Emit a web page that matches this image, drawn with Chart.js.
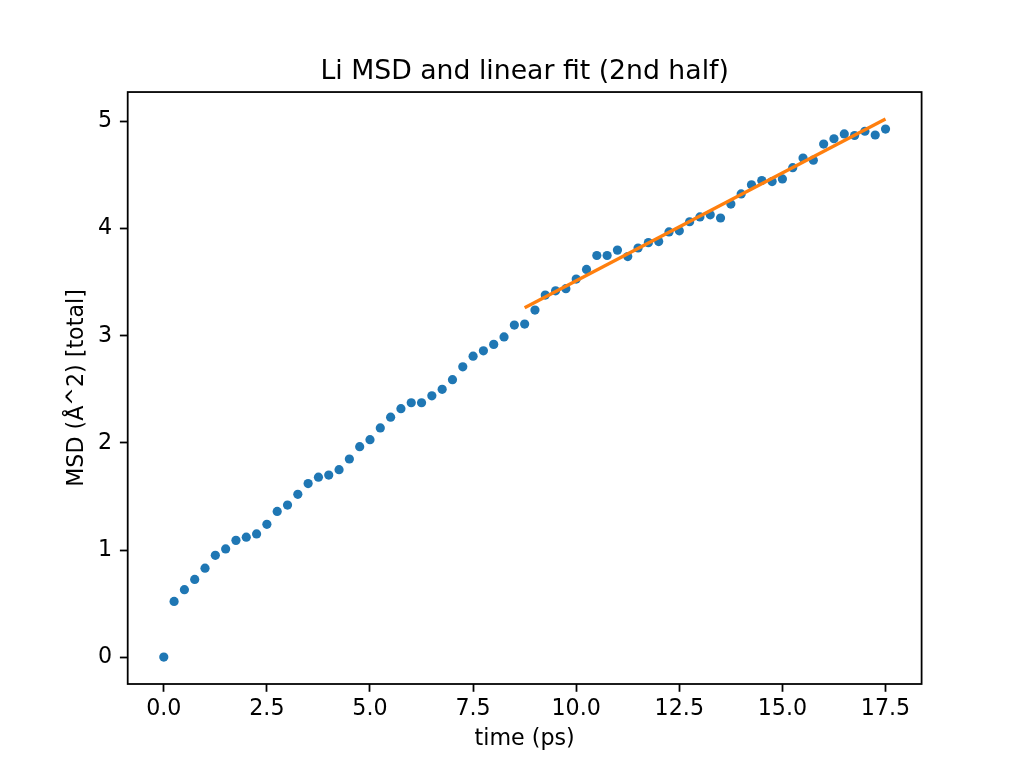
<!DOCTYPE html>
<html>
<head>
<meta charset="utf-8">
<script src="https://cdn.jsdelivr.net/npm/chart.js@4.4.0/dist/chart.umd.min.js"></script>
<style>
html, body { margin: 0; padding: 0; background: #fff; }
</style>
</head>
<body>
<canvas id="graficoMsd" width="1024" height="768"></canvas>
<script>
// tempo (ps) de cada ponto
const tempos = [
    0.0, 0.25, 0.5, 0.75, 1.0, 1.25, 1.5, 1.75, 2.0, 2.25,
    2.5, 2.75, 3.0, 3.25, 3.5, 3.75, 4.0, 4.25, 4.5, 4.75,
    5.0, 5.25, 5.5, 5.75, 6.0, 6.25, 6.5, 6.75, 7.0, 7.25,
    7.5, 7.75, 8.0, 8.25, 8.5, 8.75, 9.0, 9.25, 9.5, 9.75,
    10.0, 10.25, 10.5, 10.75, 11.0, 11.25, 11.5, 11.75, 12.0, 12.25,
    12.5, 12.75, 13.0, 13.25, 13.5, 13.75, 14.0, 14.25, 14.5, 14.75,
    15.0, 15.25, 15.5, 15.75, 16.0, 16.25, 16.5, 16.75, 17.0, 17.25,
    17.5
];

// MSD total (A^2)
const msd = [
    0.00, 0.52, 0.63, 0.725, 0.83, 0.95, 1.01, 1.09, 1.12, 1.15,
    1.24, 1.36, 1.42, 1.52, 1.62, 1.68, 1.70, 1.75, 1.85, 1.965,
    2.03, 2.14, 2.24, 2.32, 2.375, 2.375, 2.44, 2.50, 2.59, 2.71,
    2.81, 2.86, 2.92, 2.99, 3.10, 3.11, 3.24, 3.38, 3.42, 3.44,
    3.53, 3.62, 3.75, 3.75, 3.80, 3.74, 3.82, 3.87, 3.88, 3.97,
    3.98, 4.065, 4.11, 4.13, 4.10, 4.23, 4.325, 4.41, 4.45, 4.44,
    4.465, 4.57, 4.66, 4.64, 4.79, 4.84, 4.885, 4.87, 4.91, 4.875,
    4.93
];

// ajuste linear (2a metade)
const fitTempos = [8.75, 17.5];
const fitMsd = [3.262, 5.025];

const xTicks = [0.0, 2.5, 5.0, 7.5, 10.0, 12.5, 15.0, 17.5];
const yTicks = [0, 1, 2, 3, 4, 5];

const pontos = tempos.map((t, i) => ({ x: t, y: msd[i] }));
const pontosFit = fitTempos.map((t, i) => ({ x: t, y: fitMsd[i] }));

Chart.defaults.font.family = 'DejaVu Sans';
Chart.defaults.color = '#000';

// moldura dos 4 lados, como no matplotlib
const moldura = {
    id: 'moldura',
    afterDraw(chart) {
        const a = chart.chartArea;
        const ctx = chart.ctx;
        ctx.save();
        ctx.strokeStyle = '#000';
        ctx.lineWidth = 1.78;
        ctx.strokeRect(a.left, a.top, a.right - a.left, a.bottom - a.top);
        ctx.restore();
    }
};

const config = {
    type: 'scatter',
    data: {
        datasets: [{
            type: 'line',
            label: 'fit',
            data: pontosFit,
            borderColor: '#ff7f0e',
            borderWidth: 3.3,
            pointRadius: 0,
            fill: false
        }, {
            label: 'MSD',
            data: pontos,
            backgroundColor: '#1f77b4',
            borderWidth: 0,
            pointRadius: 4.6,
            pointHoverRadius: 4.6
        }]
    },
    options: {
        responsive: false,
        animation: false,
        devicePixelRatio: 1,
        layout: { padding: { left: 0, right: 102.4, top: 0, bottom: 0 } },
        plugins: {
            legend: { display: false },
            tooltip: { enabled: false },
            title: {
                display: true,
                fullSize: false,
                text: 'Li MSD and linear fit (2nd half)',
                font: { size: 26.7, weight: 'normal' },
                color: '#000',
                padding: { top: 56, bottom: 4 }
            }
        },
        scales: {
            x: {
                type: 'linear',
                min: -0.875,
                max: 18.375,
                afterBuildTicks: (s) => { s.ticks = xTicks.map(v => ({ value: v })); },
                afterFit: (s) => { s.height = 84; },
                ticks: {
                    font: { size: 22.2 },
                    padding: 4,
                    maxRotation: 0,
                    callback: (v) => v.toFixed(1)
                },
                grid: {
                    drawOnChartArea: false,
                    drawTicks: true,
                    tickLength: 7.8,
                    tickWidth: 1.78,
                    color: '#000'
                },
                border: { display: false },
                title: {
                    display: true,
                    text: 'time (ps)',
                    font: { size: 22.2 },
                    padding: { top: 0, bottom: 15 }
                }
            },
            y: {
                type: 'linear',
                min: -0.251,
                max: 5.276,
                afterBuildTicks: (s) => { s.ticks = yTicks.map(v => ({ value: v })); },
                afterFit: (s) => { s.width = 127.7; },
                ticks: {
                    font: { size: 22.2 },
                    padding: 7.8,
                    callback: (v) => String(v)
                },
                grid: {
                    drawOnChartArea: false,
                    drawTicks: true,
                    tickLength: 7.8,
                    tickWidth: 1.78,
                    color: '#000'
                },
                border: { display: false },
                title: {
                    display: true,
                    text: 'MSD (Å^2) [total]',
                    font: { size: 22.2 },
                    padding: { top: 63.5, bottom: 0 }
                }
            }
        }
    },
    plugins: [moldura]
};

const graficoMsd = new Chart(document.getElementById('graficoMsd'), config);
</script>
</body>
</html>
